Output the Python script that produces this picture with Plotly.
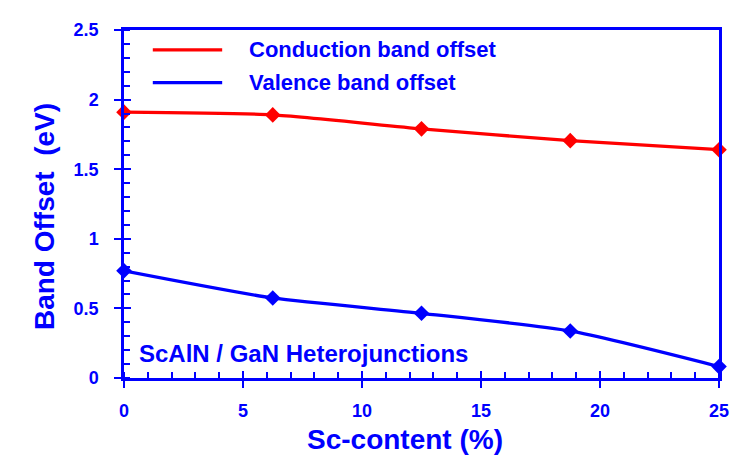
import plotly.graph_objects as go

sc_content = [0, 6.25, 12.5, 18.75, 25]
conduction = [1.91, 1.89, 1.79, 1.705, 1.64]
valence = [0.77, 0.575, 0.465, 0.338, 0.082]
names = ["Conduction band offset", "Valence band offset"]
colors = ["#FF0000", "#0000FF"]
x_ticks = [0, 5, 10, 15, 20, 25]
y_ticks = [0, 0.5, 1, 1.5, 2, 2.5]

BLUE = "#0000FF"
FONT = "Liberation Sans, Arial, sans-serif"

fig = go.Figure()
for vals, name, col in zip([conduction, valence], names, colors):
    fig.add_trace(go.Scatter(
        x=sc_content, y=vals, name=name, mode="lines+markers",
        line=dict(color=col, width=3.3, shape="spline", smoothing=0.6),
        marker=dict(symbol="diamond", size=12, color=col),
        cliponaxis=False, showlegend=False,
    ))
# dummy trace to realise overlay axes (inner half of crossing ticks)
fig.add_trace(go.Scatter(x=[None], y=[None], xaxis="x2", yaxis="y2",
                         showlegend=False, hoverinfo="skip"))

tickfont = dict(family=FONT, size=18, color=BLUE, weight="bold")
fig.update_layout(
    width=733, height=455,
    margin=dict(l=116, r=16, t=19, b=85),
    paper_bgcolor="white", plot_bgcolor="white",
    font=dict(family=FONT, color=BLUE),
    xaxis=dict(range=[0, 25], tickvals=x_ticks, showgrid=False, zeroline=False,
               showline=True, linecolor=BLUE, linewidth=2.5, mirror=True,
               ticks="outside", ticklen=7, tickwidth=2, tickcolor=BLUE,
               ticklabelstandoff=8,
               minor=dict(ticks="inside", ticklen=6, tickwidth=2, dtick=1,
                          tick0=0, tickcolor=BLUE, showgrid=False),
               tickfont=tickfont),
    yaxis=dict(range=[0, 2.5], tickvals=y_ticks, showgrid=False, zeroline=False,
               showline=True, linecolor=BLUE, linewidth=2.5, mirror=True,
               ticks="outside", ticklen=7, tickwidth=2, tickcolor=BLUE,
               ticklabelstandoff=12,
               minor=dict(ticks="inside", ticklen=6, tickwidth=2, dtick=0.1,
                          tick0=0, tickcolor=BLUE, showgrid=False),
               tickfont=tickfont),
    xaxis2=dict(range=[0, 25], overlaying="x", tickvals=x_ticks, showticklabels=False,
                showgrid=False, zeroline=False, showline=False,
                ticks="inside", ticklen=7, tickwidth=2, tickcolor=BLUE),
    yaxis2=dict(range=[0, 2.5], overlaying="y", tickvals=y_ticks, showticklabels=False,
                showgrid=False, zeroline=False, showline=False,
                ticks="inside", ticklen=7, tickwidth=2, tickcolor=BLUE),
)

# manual legend
leg_y = [0.943, 0.849]
for name, col, yy in zip(names, colors, leg_y):
    fig.add_shape(type="line", xref="paper", yref="paper",
                  x0=0.0484, x1=0.165, y0=yy, y1=yy,
                  line=dict(color=col, width=3.3))
    fig.add_annotation(text="<b>%s</b>" % name, xref="paper", yref="paper",
                       x=0.207, y=yy, xanchor="left", yanchor="middle",
                       showarrow=False, font=dict(family=FONT, size=22, color=BLUE))

fig.add_annotation(text="<b>ScAlN / GaN Heterojunctions</b>", xref="paper", yref="paper",
                   x=0.0217, y=0.071, xanchor="left", yanchor="middle",
                   showarrow=False, font=dict(family=FONT, size=24, color=BLUE))
fig.add_annotation(text="<b>Band Offset  (eV)</b>", xref="paper", yref="paper",
                   x=-0.1336, y=0.464, xanchor="center", yanchor="middle", textangle=-90,
                   showarrow=False, font=dict(family=FONT, size=28, color=BLUE))
fig.add_annotation(text="<b>Sc-content (%)</b>", xref="paper", yref="paper",
                   x=0.4725, y=-0.1766, xanchor="center", yanchor="middle",
                   showarrow=False, font=dict(family=FONT, size=28, color=BLUE))

fig.write_html("out.html")
